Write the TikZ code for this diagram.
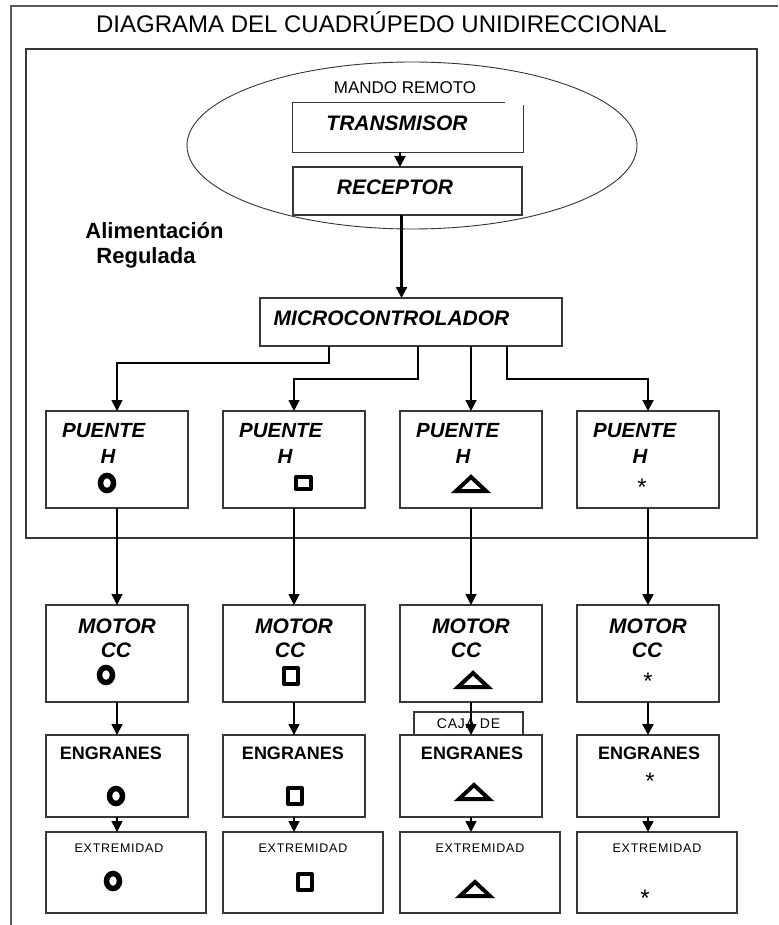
\documentclass[tikz,border=0pt]{standalone}
\usepackage{fontspec}
\setmainfont{Liberation Sans}
\newfontfamily\spacedsans[LetterSpace=6]{Liberation Sans}
\usetikzlibrary{arrows.meta,shapes.geometric}

\begin{document}
\begin{tikzpicture}[x=1pt,y=-1pt,
  edge/.style={draw=black!78,line width=1.3pt},
  blk/.style={edge,inner sep=0pt,outer sep=0pt,minimum width=142pt},
  arr/.style={-{Triangle[width=11pt,length=11pt]},line width=1.6pt,black},
  bigarr/.style={arr,line width=2.4pt},
  labbi/.style={anchor=base,inner sep=0pt,font=\fontsize{21}{25}\selectfont\bfseries\itshape},
  labeng/.style={anchor=base,inner sep=0pt,font=\fontsize{18}{22}\selectfont\bfseries},
  labext/.style={anchor=base,inner sep=0pt,font=\fontsize{12.5}{15}\selectfont\spacedsans},
  starlab/.style={anchor=base,inner sep=0pt,font=\fontsize{24}{28}\selectfont},
  ring/.pic={\draw[line width=5.5pt] (0,0) ellipse[x radius=6.5pt,y radius=7.5pt];},
  sqr/.pic={\draw[line width=4pt,line join=round] (-7,-8) rectangle (7,8);},
  sqrsmall/.pic={\draw[line width=4pt,line join=round] (-7.5,-6) rectangle (7.5,6);},
  trig/.pic={\draw[line width=4pt,line join=miter] (-15,6) -- (15,6) -- (0,-8) -- cycle;}
]
\useasboundingbox (0,0) rectangle (778,925);

% outer page frame (left and top sides)
\draw[draw=black!65,line width=1.6pt] (11,925) -- (11,6) -- (778,6);
\node[anchor=base,inner sep=0pt,font=\fontsize{24}{28}\selectfont] (title) at (381.5,33)
  {DIAGRAMA DEL CUADRÚPEDO UNIDIRECCIONAL};

% regulated supply region
\draw[edge] (26,49) rectangle (757,538);

% remote control
\node[draw=black!80,line width=0.9pt,ellipse,minimum width=450pt,minimum height=167pt,inner sep=0pt]
  (remote) at (412,145.5) {};
\node[anchor=base,inner sep=0pt,font=\fontsize{17}{20}\selectfont] (mando) at (405,94) {MANDO REMOTO};
\node[inner sep=0pt,minimum width=230pt,minimum height=49pt] (tx) at (408,127.5) {};
\draw[edge] ([xshift=212pt]tx.north west) -- (tx.north west) -- (tx.south west)
  -- (tx.south east) -- ([yshift=-2pt]tx.north east);
\node[labbi] (txlab) at (397,130.5) {TRANSMISOR};
\node[blk,minimum width=229pt,minimum height=48pt] (rx) at (407.5,191) {};
\node[labbi] (rxlab) at (395,194.5) {RECEPTOR};
\draw[arr,line width=2pt] ([xshift=-8pt]tx.south) -- ([xshift=-7.5pt]rx.north);

\node[anchor=base,inner sep=0pt,font=\fontsize{22}{26}\selectfont\bfseries] (alim) at (154.5,238) {Alimentación};
\node[anchor=base,inner sep=0pt,font=\fontsize{22}{26}\selectfont\bfseries] (reg) at (146,263) {Regulada};

% microcontroller
\node[blk,minimum width=302pt,minimum height=48pt] (micro) at (411,322) {};
\node[labbi] (microlab) at (391.5,325) {MICROCONTROLADOR};
\draw[bigarr] ([xshift=-6pt]rx.south) -- ([xshift=-9.5pt]micro.north);

% H bridges
\foreach \i/\cx/\lx/\hx in {1/117/62/108,2/294/239/285,3/471/416/463,4/648/593/640}{
  \node[blk,minimum height=97pt] (p\i) at (\cx,459.5) {};
  \node[labbi,font=\fontsize{20.5}{24}\selectfont\bfseries\itshape,anchor=base west] (pl\i) at (\lx,437) {PUENTE};
  \node[labbi,font=\fontsize{20.5}{24}\selectfont\bfseries\itshape] (ph\i) at (\hx,463) {H};
}
\pic at (107,483) {ring};
\pic at (303,483) {sqrsmall};
\pic at (471,485) {trig};
\node[starlab] (ps4) at (642,495) {*};

\draw[arr] ([xshift=-82pt]micro.south) -- ++(0,17) -| (p1.north);
\draw[arr] ([xshift=7pt]micro.south) -- ++(0,33) -| (p2.north);
\draw[arr] ([xshift=60pt]micro.south) -- (p3.north);
\draw[arr,line width=2pt] ([xshift=96pt]micro.south) -- ++(0,33) -| (p4.north);

% DC motors
\foreach \i/\cx/\ccx in {1/117/116,2/294/290,3/471/466,4/648/647}{
  \node[blk,minimum height=97pt] (m\i) at (\cx,653.5) {};
  \node[labbi] (ml\i) at (\cx,633) {MOTOR};
  \node[labbi] (mc\i) at (\ccx,657) {CC};
}
\pic at (106,675) {ring};
\pic at (291,676) {sqr};
\pic at (473,681) {trig};
\node[starlab] (ms4) at (648,689) {*};

% gear box label box
\node[edge,inner sep=0pt,minimum width=109pt,minimum height=23pt,
  font=\fontsize{14}{16}\selectfont\spacedsans] (caja) at (468.5,723.5) {CAJA DE};

% gears
\foreach \i/\cx/\tx in {1/117/111,2/294/293,3/471/472,4/648/649}{
  \node[blk,minimum height=82pt,fill=white] (e\i) at (\cx,776) {};
  \node[labeng] (el\i) at (\tx,759) {ENGRANES};
}
\pic at (116,796) {ring};
\pic at (295,796) {sqr};
\pic at (474,793) {trig};
\node[starlab] (es4) at (650,789) {*};

% limbs
\foreach \i/\cx/\tx in {1/126/119,2/303/303,3/480/480,4/657/657}{
  \node[blk,minimum width=160pt,minimum height=81pt] (x\i) at (\cx,872.5) {};
  \node[labext] (xl\i) at (\tx,852) {EXTREMIDAD};
}
\pic at (113,881) {ring};
\pic at (305,882) {sqr};
\pic at (475,890) {trig};
\node[starlab] (xs4) at (645,906) {*};

% power chains down each column
\foreach \i in {1,2,3}{
  \draw[arr] (p\i.south) -- (m\i.north);
  \draw[arr] (m\i.south) -- (e\i.north);
  \draw[arr] (e\i.south) -- (e\i.south |- x\i.north);
}
\draw[arr,line width=2.4pt] (p4.south) -- (m4.north);
\draw[arr,line width=2.4pt] (m4.south) -- (e4.north);
\draw[arr] (e4.south) -- (e4.south |- x4.north);
\end{tikzpicture}
\end{document}
